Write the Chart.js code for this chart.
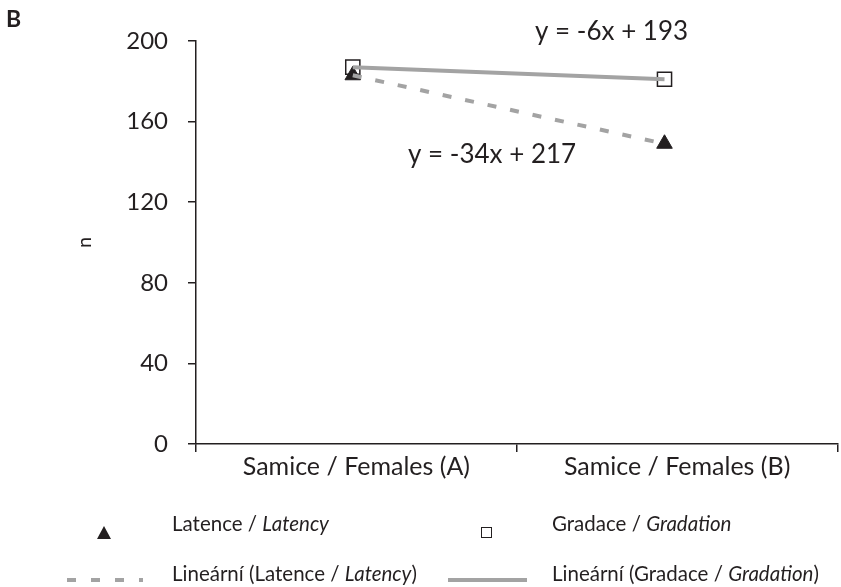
<!DOCTYPE html>
<html>
<head>
<meta charset="utf-8">
<script src="https://cdn.jsdelivr.net/npm/chart.js@4"></script>
<style>
  html, body { margin: 0; padding: 0; background: #fff; overflow: hidden; }
  #wrap { width: 849px; height: 587px; position: relative; }
</style>
</head>
<body>
<div id="wrap"><canvas id="c"></canvas></div>
<script>
const categories = ['Samice / Females (A)', 'Samice / Females (B)'];
const latency = [183, 149];
const gradation = [187, 181];
const trendLatency = [183, 149];
const trendGradation = [187, 181];
const yTicks = [0, 40, 80, 120, 160, 200];

const INK = '#231f20';
const GREY = '#a3a3a3';
const FONT = 'Lato';

const pts = arr => arr.map((v, i) => ({ x: i + 1, y: v }));

// equations + 2x2 legend under the plot
const extras = {
  id: 'extras',
  afterDraw(chart) {
    const { ctx } = chart;
    ctx.save();
    ctx.fillStyle = INK;
    ctx.textBaseline = 'alphabetic';

    ctx.font = 'bold 23px ' + FONT;
    ctx.fillText('B', 6, 27);

    ctx.font = '26px ' + FONT;
    ctx.fillText('y = -6x + 193', 535, 40);
    ctx.fillText('y = -34x + 217', 408, 163);

    function mixed(parts, x, y) {
      parts.forEach(([t, it]) => {
        ctx.font = (it ? 'italic ' : '') + '20.5px ' + FONT;
        ctx.fillText(t, x, y);
        x += ctx.measureText(t).width;
      });
    }

    // triangle
    ctx.beginPath();
    ctx.moveTo(104, 526);
    ctx.lineTo(111, 539);
    ctx.lineTo(97, 539);
    ctx.closePath();
    ctx.fill();
    mixed([['Latence / ', false], ['Latency', true]], 172, 531);

    // square
    ctx.strokeStyle = INK;
    ctx.lineWidth = 1;
    ctx.strokeRect(481.5, 527.5, 10, 10);
    mixed([['Gradace / ', false], ['Gradation', true]], 552, 531);

    // dashed trend sample
    ctx.strokeStyle = GREY;
    ctx.lineWidth = 4;
    ctx.setLineDash([9, 15]);
    ctx.beginPath();
    ctx.moveTo(67, 580);
    ctx.lineTo(143, 580);
    ctx.stroke();
    ctx.setLineDash([]);
    mixed([['Lineární (Latence / ', false], ['Latency', true], [')', false]], 172, 581);

    ctx.beginPath();
    ctx.moveTo(448, 580);
    ctx.lineTo(527, 580);
    ctx.stroke();
    mixed([['Lineární (Gradace / ', false], ['Gradation', true], [')', false]], 552, 581);

    ctx.restore();
  }
};

new Chart(document.getElementById('c'), {
  type: 'scatter',
  data: {
    labels: categories,
    datasets: [
      {
        label: 'Lineární (Latence / Latency)',
        data: pts(trendLatency),
        xAxisID: 'xd',
        showLine: true,
        borderColor: GREY,
        borderWidth: 4,
        borderDash: [9, 14],
        pointRadius: 0,
        order: 0
      },
      {
        label: 'Lineární (Gradace / Gradation)',
        data: pts(trendGradation),
        xAxisID: 'xd',
        showLine: true,
        borderColor: GREY,
        borderWidth: 4,
        pointRadius: 0,
        order: 0
      },
      {
        label: 'Latence / Latency',
        data: pts(latency),
        xAxisID: 'xd',
        pointStyle: 'triangle',
        pointRadius: 9,
        backgroundColor: INK,
        borderColor: INK,
        borderWidth: 1,
        order: 1
      },
      {
        label: 'Gradace / Gradation',
        data: pts(gradation),
        xAxisID: 'xd',
        pointStyle: 'rect',
        pointRadius: 10,
        backgroundColor: '#fff',
        borderColor: INK,
        borderWidth: 1.5,
        order: 1
      }
    ]
  },
  options: {
    responsive: true,
    maintainAspectRatio: false,
    animation: false,
    layout: { padding: { top: 41, right: 3, left: 0, bottom: 0 } },
    plugins: { legend: { display: false }, tooltip: { enabled: false } },
    scales: {
      x: {
        type: 'category',
        position: 'bottom',
        offset: true,
        grid: { offset: true, drawOnChartArea: false, tickLength: 8, color: INK, lineWidth: 1.5 },
        border: { color: INK, width: 1.5 },
        ticks: { color: INK, font: { family: FONT, size: 25 }, padding: 0, maxRotation: 0 },
        afterFit(s) { s.height = 143; }
      },
      xd: {
        type: 'linear',
        display: false,
        min: 0.497,
        max: 2.555
      },
      y: {
        min: 0,
        max: 200,
        afterBuildTicks(s) { s.ticks = yTicks.map(v => ({ value: v })); },
        grid: { drawOnChartArea: false, tickLength: 8, color: INK, lineWidth: 1.5 },
        border: { color: INK, width: 1.5 },
        ticks: { color: INK, font: { family: FONT, size: 24 }, padding: 20 },
        title: { display: true, text: 'n', color: INK, font: { family: FONT, size: 20 }, padding: { top: 73, bottom: 0 } },
        afterFit(s) { s.width = 196; }
      }
    }
  },
  plugins: [extras]
});
</script>
</body>
</html>
